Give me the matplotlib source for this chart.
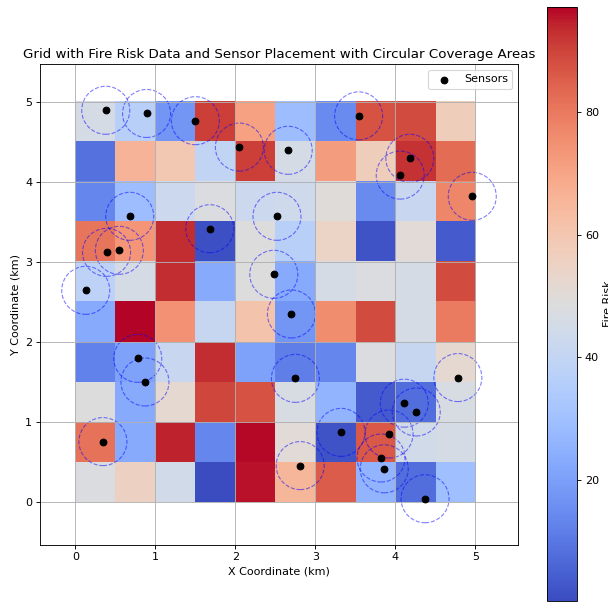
import numpy as np
import matplotlib
matplotlib.use('Agg')
import matplotlib.pyplot as plt

# fire risk grid, top row (y 4.5-5) first
fire_risk = [
    [45.7, 36.9, 17.5, 90.4, 71.0, 29.2, 14.6, 87.5, 88.5, 57.3],
    [8.7, 66.1, 59.3, 39.9, 90.4, 45.7, 71.9, 57.3, 92.3, 82.6],
    [13.6, 29.2, 42.8, 47.6, 42.8, 43.7, 49.6, 14.6, 41.8, 76.8],
    [80.7, 73.9, 93.3, 1.0, 48.6, 36.9, 54.4, 1.9, 50.5, 3.9],
    [38.4, 45.7, 93.3, 23.3, 48.6, 23.3, 45.7, 47.6, 45.7, 88.5],
    [23.3, 97.2, 74.8, 40.8, 61.2, 17.5, 75.8, 88.5, 45.7, 79.7],
    [12.6, 20.4, 41.8, 93.3, 20.4, 11.7, 13.6, 47.6, 40.8, 51.5],
    [48.6, 23.3, 51.5, 89.4, 87.5, 46.7, 26.2, 3.9, 7.8, 46.7],
    [81.6, 23.3, 94.5, 13.6, 96.5, 50.5, 1.9, 86.5, 44.7, 45.7],
    [47.6, 55.4, 44.7, 0.2, 96.0, 65.1, 85.5, 26.2, 7.8, 30.1],
]

sensor_x = [0.38, 0.89, 1.50, 2.05, 2.66, 0.68, 1.68, 2.52, 0.39, 0.55,
            0.13, 2.48, 3.54, 4.18, 4.06, 4.96, 2.70, 0.78, 0.87, 2.75,
            0.345, 2.81, 4.78, 4.11, 4.26, 3.32, 3.92, 3.82, 3.86, 4.37]
sensor_y = [4.90, 4.86, 4.77, 4.44, 4.40, 3.575, 3.42, 3.575, 3.125, 3.15,
            2.65, 2.85, 4.83, 4.30, 4.09, 3.825, 2.355, 1.80, 1.505, 1.55,
            0.76, 0.46, 1.56, 1.24, 1.13, 0.875, 0.855, 0.555, 0.42, 0.046]
radius = 0.3

fig = plt.figure(figsize=(608/80, 605/80), dpi=80)
ax = fig.add_axes([40/608, 60/605, 478/608, 481/605])
cax = fig.add_axes([547/608, 4/605, 30/608, 594/605])

im = ax.imshow(np.array(fire_risk), cmap='coolwarm', extent=[0, 5, 0, 5])
ax.scatter(sensor_x, sensor_y, color='black', label='Sensors', zorder=3)
for sx, sy in zip(sensor_x, sensor_y):
    c = plt.Circle((sx, sy), radius, color='blue', fill=False,
                   linestyle='--', alpha=0.5)
    ax.add_patch(c)

cbar = fig.colorbar(im, cax=cax)
cbar.set_label('Fire Risk')

ax.set_title('Grid with Fire Risk Data and Sensor Placement with Circular Coverage Areas')
ax.set_xlabel('X Coordinate (km)')
ax.set_ylabel('Y Coordinate (km)')
ax.legend(loc='upper right')
ax.grid(True)

fig.savefig('out.png', dpi=80)
